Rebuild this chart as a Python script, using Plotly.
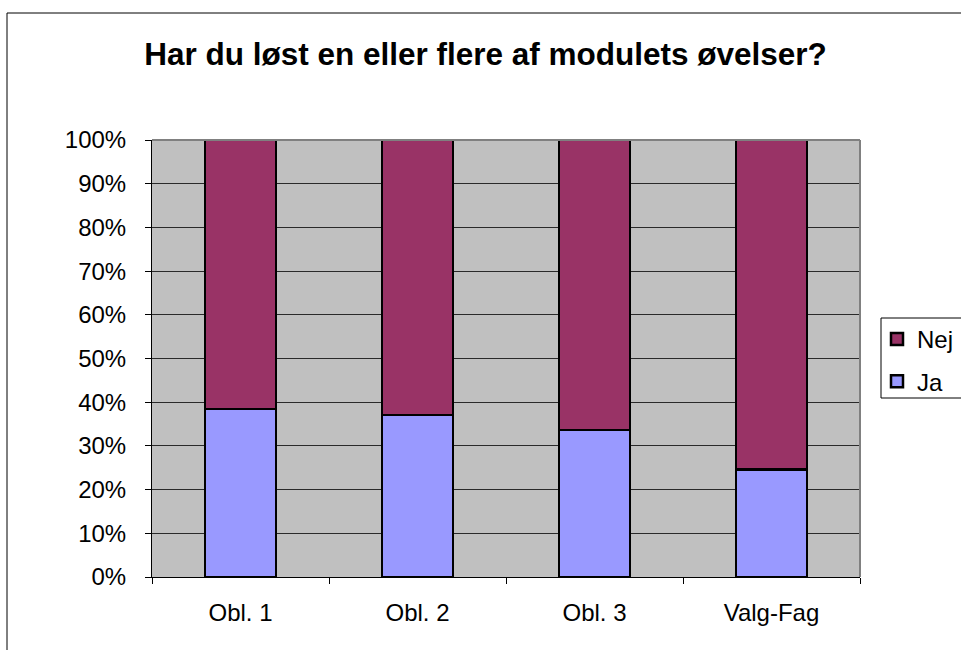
import plotly.graph_objects as go

categories = ["Obl. 1", "Obl. 2", "Obl. 3", "Valg-Fag"]
ja_values = [38.4, 37.1, 33.6, 24.6]
nej_values = [100 - v for v in ja_values]
y_ticks = list(range(0, 101, 10))
y_tick_labels = [f"{v}%" for v in y_ticks]

W, H = 961, 650
L, R, T, B = 152, 860, 140, 577

def px(x):
    return (x - L) / (R - L)

def py(y):
    return (B - y) / (B - T)

fig = go.Figure()
fig.add_trace(go.Bar(x=categories, y=ja_values, name="Ja", legendgroup="ja", legendrank=2,
                     marker=dict(color="#9999FF", line=dict(color="black", width=2.5)),
                     width=0.4))
fig.add_trace(go.Bar(x=categories, y=nej_values, name="Nej", legendgroup="nej", legendrank=1,
                     marker=dict(color="#993366", line=dict(color="black", width=2.5)),
                     width=0.4))

font = "Liberation Sans, Arial, sans-serif"
fig.update_layout(
    width=W, height=H,
    margin=dict(l=L, r=W - R, t=T, b=H - B, pad=0, autoexpand=False),
    barmode="stack",
    paper_bgcolor="white",
    plot_bgcolor="#C0C0C0",
    font=dict(family=font, size=24, color="black"),
    title=dict(text="<b>Har du løst en eller flere af modulets øvelser?</b>",
               x=px(485.5), xref="paper", xanchor="center",
               y=1 - 53.5 / H, yanchor="middle",
               font=dict(size=31.5, family=font, color="black")),
    showlegend=True,
    legend=dict(traceorder="grouped", x=px(877), y=py(317), xanchor="left", yanchor="top",
                bgcolor="rgba(0,0,0,0)", borderwidth=0, font=dict(size=24),
                itemwidth=30, tracegroupgap=8),
    xaxis=dict(showline=True, linecolor="black", linewidth=1, automargin=False,
               ticks="outside", ticklen=6, tickcolor="black", tickson="boundaries",
               showgrid=False, ticklabelstandoff=14, range=[-0.5, 3.5]),
    yaxis=dict(range=[0, 100], tickvals=y_ticks, ticktext=y_tick_labels, automargin=False,
               showline=True, linecolor="black", linewidth=1,
               ticks="outside", ticklen=6, tickcolor="black",
               showgrid=True, gridcolor="#2a2a2a", gridwidth=1,
               zeroline=False, ticklabelstandoff=14),
    bargap=0.6,
)

shapes = [
    # outer chart frame
    dict(type="line", xref="paper", yref="paper", x0=px(7), x1=px(970), y0=py(13), y1=py(13),
         line=dict(color="black", width=1)),
    dict(type="line", xref="paper", yref="paper", x0=px(7), x1=px(7), y0=py(13), y1=py(660),
         line=dict(color="black", width=1)),
    # plot area top/right border
    dict(type="line", xref="paper", yref="paper", x0=0, x1=1, y0=1, y1=1,
         line=dict(color="#808080", width=2)),
    dict(type="line", xref="paper", yref="paper", x0=1, x1=1, y0=0, y1=1,
         line=dict(color="#808080", width=2)),
    # legend box
    dict(type="rect", xref="paper", yref="paper", x0=px(881), x1=px(975), y0=py(318), y1=py(398),
         line=dict(color="black", width=1)),
]
fig.update_layout(shapes=shapes)

fig.write_html("out.html", config={"displayModeBar": False},
               post_script="document.body.style.margin='0';")
